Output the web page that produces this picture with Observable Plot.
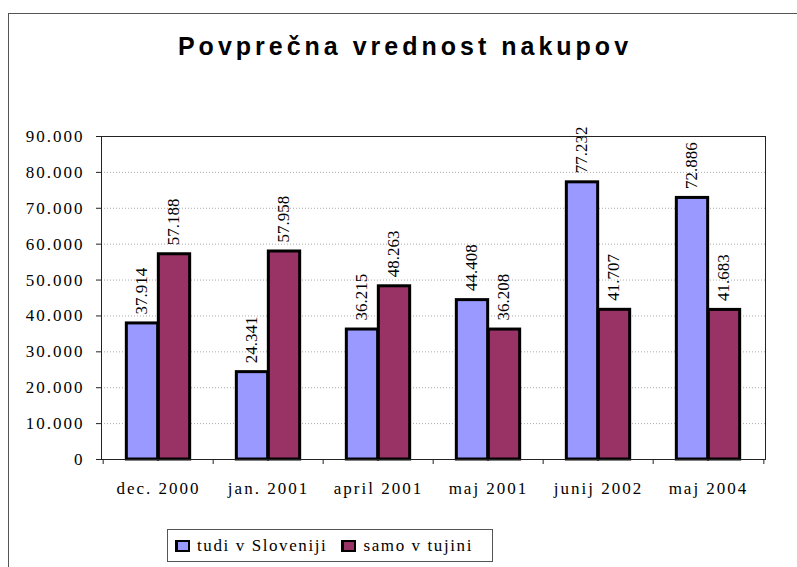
<!DOCTYPE html>
<html>
<head>
<meta charset="utf-8">
<script src="https://cdn.jsdelivr.net/npm/d3@7"></script>
<script src="https://cdn.jsdelivr.net/npm/@observablehq/plot@0.6"></script>
<style>
  html, body { margin: 0; padding: 0; background: #fff; }
  body { width: 797px; height: 567px; overflow: hidden; position: relative; }
  #border { position: absolute; left: 8px; top: 13px; width: 900px; height: 700px; border: 1px solid #555; }
  #title { position: absolute; left: 0; width: 810px; top: 31px; text-align: center; line-height: 30px;
           font-family: "Liberation Sans", Arial, sans-serif; font-weight: bold; font-size: 25px; letter-spacing: 4px; color: #000; }
  #chart { position: absolute; left: 0; top: 0; }
  #legend { position: absolute; left: 167px; top: 529px; width: 326px; height: 33px; border: 1px solid #555; box-sizing: border-box;
            font-family: "Liberation Serif", "Times New Roman", serif; font-size: 17px; letter-spacing: 1.6px; color: #000;
            display: flex; align-items: center; padding-left: 7px; }
  .sw { display: inline-block; width: 10px; height: 8px; border: 2px solid #000; border-left-width: 3px; margin-right: 7px; }
  .item { display: inline-flex; align-items: center; margin-right: 14px; }
</style>
</head>
<body>
<div id="border"></div>
<div id="title">Povprečna vrednost nakupov</div>
<div id="chart"></div>
<div id="legend"></div>
<script>
const categories = ["dec. 2000", "jan. 2001", "april 2001", "maj 2001", "junij 2002", "maj 2004"];
const seriesNames = ["tudi v Sloveniji", "samo v tujini"];
const sloveniji = [37914, 24341, 36215, 44408, 77232, 72886];
const tujini = [57188, 57958, 48263, 36208, 41707, 41683];
const yTicks = [0, 10000, 20000, 30000, 40000, 50000, 60000, 70000, 80000, 90000];
const colors = ["#9999FF", "#993366"];

const fmt = d => d === 0 ? "0" : d3.format(",.0f")(d).replace(/,/g, ".");
const fmtVal = d => d3.format(",.0f")(d).replace(/,/g, ".");

const dataA = categories.map((c, i) => ({cat: c, v: sloveniji[i]}));
const dataB = categories.map((c, i) => ({cat: c, v: tujini[i]}));

const W = 797, H = 500, mL = 101, mR = 32, mT = 136, mB = 41;
const band = (W - mL - mR) / categories.length;
const barW = 32;
const outer = (band - 2 * barW) / 2;
const serif = "'Liberation Serif', 'Times New Roman', serif";

const plot = Plot.plot({
  width: W, height: H,
  marginLeft: mL, marginRight: mR, marginTop: mT, marginBottom: mB,
  style: {fontFamily: serif, fontSize: "17px", color: "#000", background: "transparent"},
  x: {domain: categories, padding: 0, label: null},
  y: {domain: [0, 90000], label: null},
  marks: [
    Plot.ruleY(yTicks.filter(d => d > 0 && d < 90000), {stroke: "#aaa", strokeDasharray: "1,2", strokeWidth: 1}),
    Plot.barY(dataA, {x: "cat", y: "v", fill: colors[0], stroke: "#000", strokeWidth: 3, insetLeft: outer, insetRight: band - outer - barW}),
    Plot.barY(dataB, {x: "cat", y: "v", fill: colors[1], stroke: "#000", strokeWidth: 3, insetLeft: outer + barW, insetRight: outer}),
    Plot.text(dataA, {x: "cat", y: "v", text: d => fmtVal(d.v), rotate: -90, textAnchor: "start", dx: -barW / 2 - 1, dy: -9, fontSize: 17, fill: "#000"}),
    Plot.text(dataB, {x: "cat", y: "v", text: d => fmtVal(d.v), rotate: -90, textAnchor: "start", dx: barW / 2 - 1, dy: -9, fontSize: 17, fill: "#000"}),
    Plot.frame({stroke: "#222", strokeWidth: 1}),
    Plot.ruleX(categories, {x: d => d, dx: -band / 2, insetTop: H - mT - mB, insetBottom: -5, stroke: "#222"}),
    Plot.ruleX(categories.slice(-1), {x: d => d, dx: band / 2, insetTop: H - mT - mB, insetBottom: -5, stroke: "#222"}),
    Plot.axisY({ticks: yTicks, tickFormat: fmt, tickSize: 5, tickPadding: 12, stroke: "#222", fontSize: 17}),
    Plot.axisX({tickSize: 0, tickPadding: 22, fontSize: 17})
  ]
});
d3.select(plot).selectAll('g[aria-label="y-axis tick label"] text, g[aria-label="x-axis tick label"] text')
  .style("font-size", "17px").style("letter-spacing", "2px").style("font-family", serif);
document.getElementById("chart").appendChild(plot);

const legend = document.getElementById("legend");
seriesNames.forEach((n, i) => {
  const item = document.createElement("span");
  item.className = "item";
  const sw = document.createElement("span");
  sw.className = "sw";
  sw.style.background = colors[i];
  item.appendChild(sw);
  item.appendChild(document.createTextNode(n));
  legend.appendChild(item);
});
</script>
</body>
</html>
